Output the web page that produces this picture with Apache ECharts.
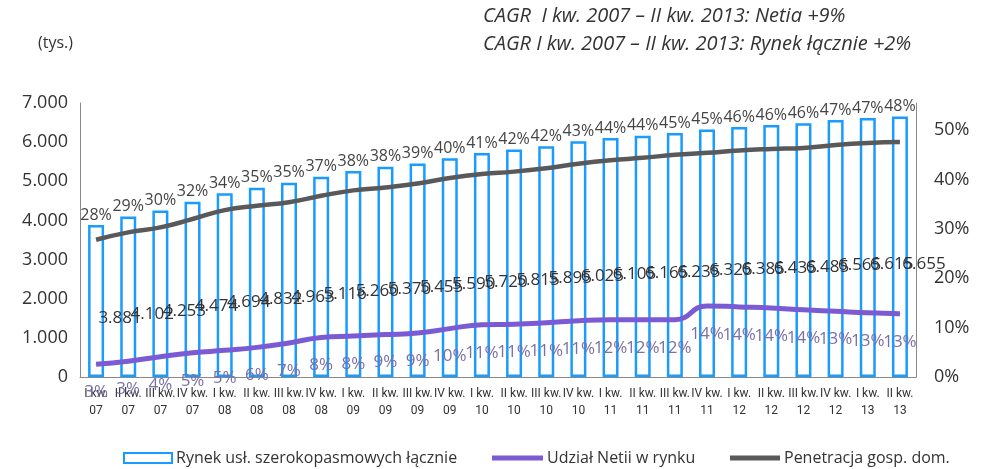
<!DOCTYPE html>
<html>
<head>
<meta charset="utf-8">
<script src="https://cdn.jsdelivr.net/npm/echarts@6/dist/echarts.min.js"></script>
<style>
  html, body { margin: 0; padding: 0; background: #fff; }
  #chart { width: 987px; height: 469px; }
</style>
</head>
<body>
<div id="chart"></div>
<script>
  // kwartały I kw. 2007 - II kw. 2013
  var quarters = ['I kw.\n07', 'II kw.\n07', 'III kw.\n07', 'IV kw.\n07',
    'I kw.\n08', 'II kw.\n08', 'III kw.\n08', 'IV kw.\n08',
    'I kw.\n09', 'II kw.\n09', 'III kw.\n09', 'IV kw.\n09',
    'I kw.\n10', 'II kw.\n10', 'III kw.\n10', 'IV kw.\n10',
    'I kw.\n11', 'II kw.\n11', 'III kw.\n11', 'IV kw.\n11',
    'I kw.\n12', 'II kw.\n12', 'III kw.\n12', 'IV kw.\n12',
    'I kw.\n13', 'II kw.\n13']
  // rynek (tys.)
  var market = [3881, 4102, 4253, 4474, 4694, 4832, 4963, 5116, 5260, 5370, 5455, 5590, 5720,
    5815, 5895, 6025, 6105, 6165, 6235, 6325, 6385, 6435, 6485, 6565, 6615, 6655]
  // udzial Netii (%)
  var netiaShare = [2.6, 3.2, 4.1, 4.9, 5.4, 6.0, 6.9, 8.0, 8.3, 8.6, 8.9, 9.8, 10.6,
    10.7, 11.0, 11.4, 11.6, 11.6, 11.6, 14.4, 14.2, 14.0, 13.6, 13.3, 13.0, 12.8]
  // penetracja gosp. dom. (%)
  var penetration = [27.8, 29.3, 30.3, 32.0, 33.8, 34.7, 35.4, 36.7, 37.8, 38.4, 39.2, 40.3, 41.1,
    41.6, 42.3, 43.2, 43.9, 44.4, 45.0, 45.4, 45.9, 46.2, 46.4, 47.0, 47.4, 47.6]
  var leftTicks = ['0', '1.000', '2.000', '3.000', '4.000', '5.000', '6.000', '7.000']

  var font = '"Open Sans", sans-serif'
  var legendText = {fontSize: 16, color: '#333', fontFamily: font, padding: [0, 0, 0, -1]}
  var chart = echarts.init(document.getElementById('chart'))
  chart.setOption({
    animation: false,
    textStyle: {fontFamily: font},
    graphic: [
      {type: 'text', left: 38, top: 35, style: {text: '(tys.)', font: '16px ' + font, fill: '#333'}},
      {type: 'text', left: 483, top: 6, style: {text: 'CAGR  I kw. 2007 \u2013 II kw. 2013: Netia +9%', font: 'italic 20px ' + font, fill: '#333'}},
      {type: 'text', left: 483, top: 34, style: {text: 'CAGR I kw. 2007 \u2013 II kw. 2013: Rynek \u0142\u0105cznie +2%', font: 'italic 20px ' + font, fill: '#333'}}
    ],
    legend: [{
      left: 118, top: 445, itemWidth: 48, itemHeight: 10, icon: 'rect',
      textStyle: legendText,
      data: ['Rynek usł. szerokopasmowych łącznie']
    }, {
      left: 487, top: 445, itemWidth: 51, itemHeight: 5, icon: 'rect',
      textStyle: legendText,
      data: ['Udział Netii w rynku']
    }, {
      left: 725, top: 445, itemWidth: 50, itemHeight: 5, icon: 'rect',
      textStyle: legendText,
      data: ['Penetracja gosp. dom.']
    }],
    grid: {left: 80, right: 71, top: 103, bottom: 92},
    xAxis: {
      type: 'category',
      data: quarters,
      axisTick: {show: false},
      axisLine: {lineStyle: {color: '#888'}},
      axisLabel: {interval: 0, color: '#333', fontSize: 12, lineHeight: 17, margin: 8, fontFamily: 'Roboto'}
    },
    yAxis: [{
      type: 'value',
      min: 0,
      max: 7000,
      interval: 1000,
      splitLine: {show: false},
      axisTick: {show: false},
      axisLine: {show: true, lineStyle: {color: '#888'}},
      axisLabel: {color: '#333', fontSize: 18, margin: 12, formatter: function (v) { return leftTicks[v / 1000] }}
    }, {
      type: 'value',
      min: 0,
      max: 55.5,
      interval: 10,
      splitLine: {show: false},
      axisTick: {show: false},
      axisLine: {show: true, lineStyle: {color: '#888'}},
      axisLabel: {color: '#333', fontSize: 18, margin: 18, showMaxLabel: false, formatter: '{value}%'}
    }],
    series: [{
      name: 'Rynek usł. szerokopasmowych łącznie',
      type: 'bar',
      data: market,
      barWidth: 16,
      itemStyle: {color: '#fff', borderColor: '#1a9bff', borderWidth: 2.5},
      label: {
        show: true,
        position: 'top',
        distance: 2,
        color: '#444',
        fontSize: 16,
        formatter: function (p) { return Math.round(penetration[p.dataIndex]) + '%' }
      },
      z: 2
    }, {
      name: 'wartosci',
      type: 'bar',
      data: market,
      barWidth: 16,
      barGap: '-100%',
      silent: true,
      itemStyle: {color: 'rgba(0,0,0,0)'},
      label: {
        show: true,
        position: 'inside',
        offset: [24, 17],
        color: '#333',
        fontSize: 17,
        formatter: function (p) { return (p.value / 1000).toFixed(3) }
      },
      z: 5
    }, {
      name: 'Udział Netii w rynku',
      type: 'line',
      yAxisIndex: 1,
      data: netiaShare,
      smooth: true,
      symbol: 'circle',
      symbolSize: 1,
      showSymbol: true,
      lineStyle: {color: '#7b5bd3', width: 5},
      itemStyle: {color: '#7b5bd3'},
      label: {
        show: true,
        position: 'bottom',
        distance: 19,
        color: '#7b70a5',
        fontSize: 17,
        formatter: function (p) { return Math.round(p.value) + '%' }
      },
      labelLayout: {hideOverlap: false},
      z: 4
    }, {
      name: 'Penetracja gosp. dom.',
      type: 'line',
      yAxisIndex: 1,
      data: penetration,
      smooth: true,
      symbol: 'none',
      lineStyle: {color: '#595959', width: 4.5},
      itemStyle: {color: '#595959'},
      z: 4
    }]
  })
</script>
</body>
</html>
